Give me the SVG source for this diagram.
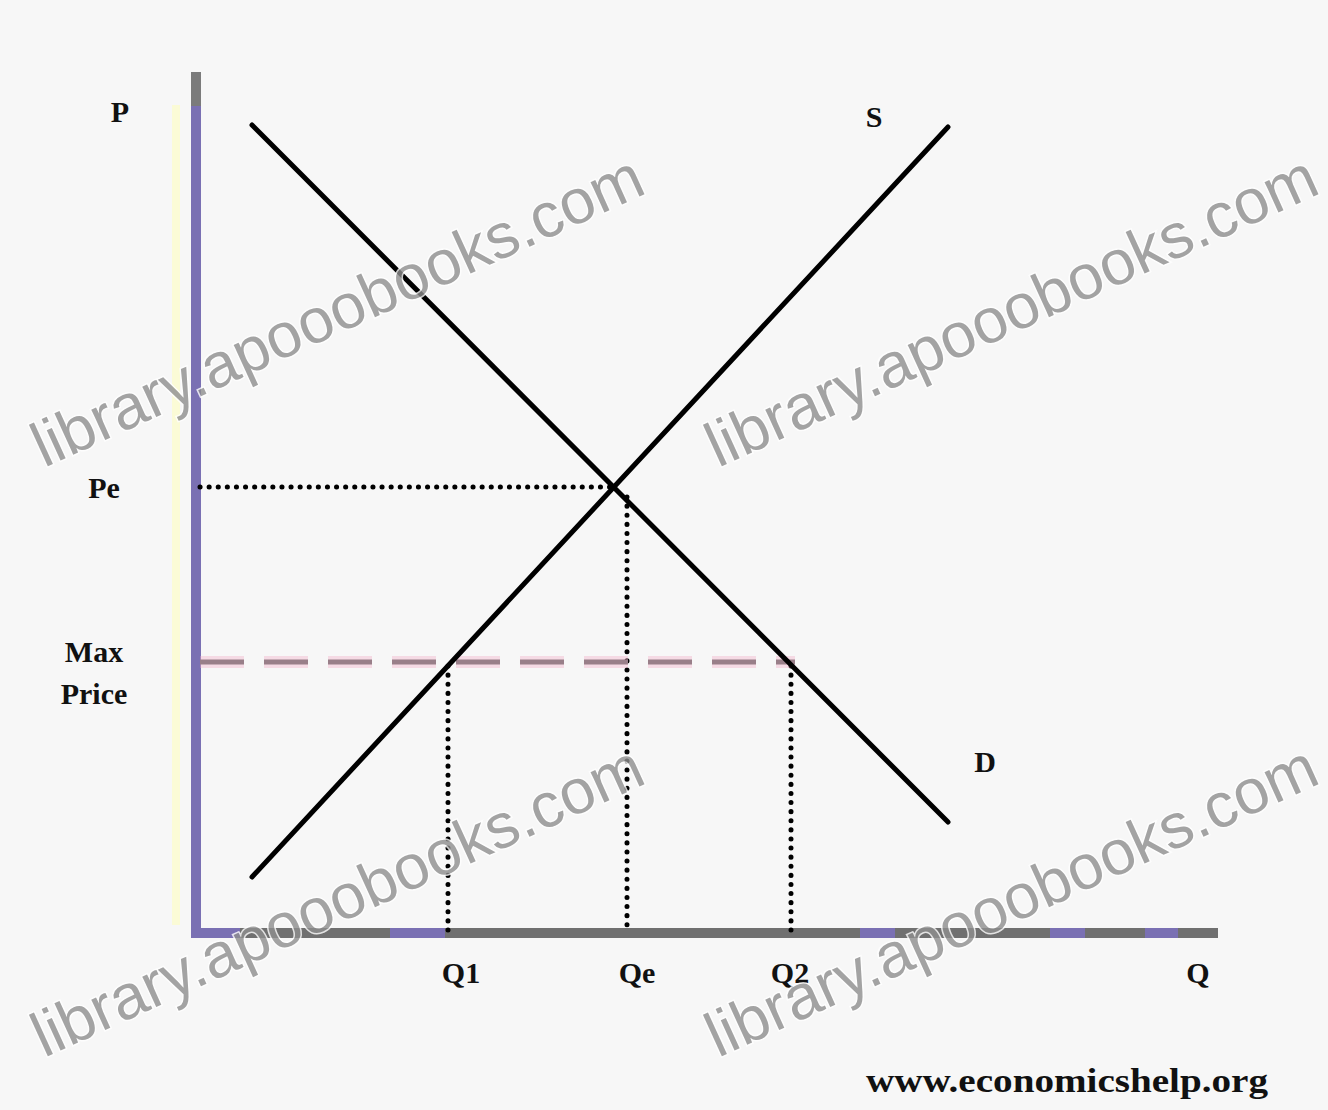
<svg xmlns="http://www.w3.org/2000/svg" width="1328" height="1110" viewBox="0 0 1328 1110">
<style>
.lbl{font-family:"Liberation Serif",serif;font-weight:bold;font-size:30px;fill:#111;text-anchor:middle}
.curve{stroke:#000;stroke-width:5;stroke-linecap:round;fill:none}
.dot{stroke:#000;stroke-width:5;stroke-dasharray:0.1 9;stroke-linecap:round;fill:none}
.wm{font-family:"Liberation Sans",Arial,sans-serif;font-size:63px;fill:#8f8f8f;stroke:#fff;stroke-width:3;paint-order:stroke;opacity:0.8}
</style>
<rect width="1328" height="1110" fill="#f7f7f7"/>
<g id="axes">
<line x1="176" y1="105" x2="176" y2="925" stroke="#fbfbd6" stroke-width="8"/>
<line x1="196" y1="72" x2="196" y2="938" stroke="#7a70b3" stroke-width="10"/>
<line x1="196" y1="72" x2="196" y2="106" stroke="#7b7b7b" stroke-width="10"/>
<line x1="196" y1="933" x2="1218" y2="933" stroke="#707070" stroke-width="10"/>
<line x1="196" y1="933" x2="240" y2="933" stroke="#7a70b3" stroke-width="10"/>
<line x1="390" y1="933" x2="445" y2="933" stroke="#7a70b3" stroke-width="10"/>
<line x1="860" y1="933" x2="895" y2="933" stroke="#7a70b3" stroke-width="10"/>
<line x1="1050" y1="933" x2="1085" y2="933" stroke="#7a70b3" stroke-width="10"/>
<line x1="1145" y1="933" x2="1178" y2="933" stroke="#7a70b3" stroke-width="10"/>
</g>
<g id="connectors">
<line class="dot" x1="200" y1="487" x2="612" y2="487"/>
<line class="dot" x1="627" y1="497" x2="627" y2="930"/>
<line class="dot" x1="448" y1="666" x2="448" y2="930"/>
<line class="dot" x1="791" y1="666" x2="791" y2="930"/>
<line x1="200" y1="662" x2="795" y2="662" stroke="#6a6a6a" stroke-width="5" stroke-dasharray="44 20"/>
<line x1="200" y1="662" x2="795" y2="662" stroke="#f2a7c3" stroke-width="12" stroke-dasharray="44 20" opacity="0.35"/>
</g>
<g id="demand"><line class="curve" x1="252" y1="125" x2="948" y2="822"/></g>
<g id="supply"><line class="curve" x1="252" y1="877" x2="948" y2="127"/></g>
<g id="labels">
<text class="lbl" x="120" y="122">P</text>
<text class="lbl" x="874" y="127">S</text>
<text class="lbl" x="985" y="772">D</text>
<text class="lbl" x="104" y="498">Pe</text>
<text class="lbl" x="94" y="662">Max</text>
<text class="lbl" x="94" y="704">Price</text>
<text class="lbl" x="461" y="983">Q1</text>
<text class="lbl" x="637" y="983">Qe</text>
<text class="lbl" x="790" y="983">Q2</text>
<text class="lbl" x="1198" y="983">Q</text>
<text class="lbl" x="1067" y="1092" style="font-size:33px" textLength="402" lengthAdjust="spacingAndGlyphs">www.economicshelp.org</text>
</g>
<g id="watermarks">
<text class="wm" transform="translate(44,468) rotate(-24.5)">library.apooobooks.com</text>
<text class="wm" transform="translate(718,468) rotate(-24.5)">library.apooobooks.com</text>
<text class="wm" transform="translate(44,1058) rotate(-24.5)">library.apooobooks.com</text>
<text class="wm" transform="translate(718,1058) rotate(-24.5)">library.apooobooks.com</text>
</g>
</svg>
